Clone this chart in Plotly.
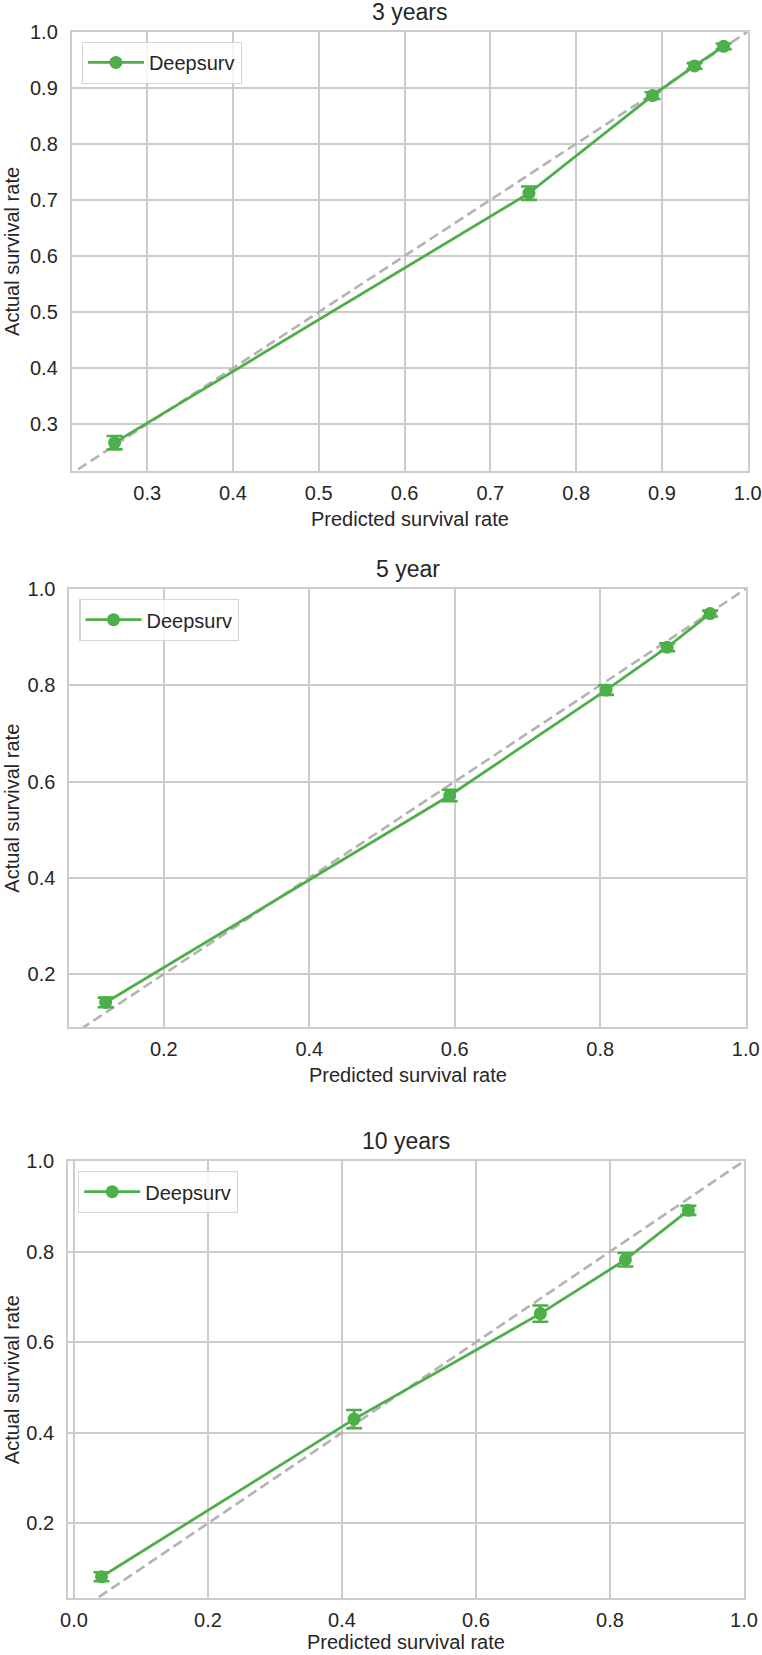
import plotly.graph_objects as go

# ---- data ----
titles = ["3 years", "5 year", "10 years"]
series_name = "Deepsurv"

pred_3y = [0.262, 0.745, 0.889, 0.938, 0.972]
obs_3y = [0.267, 0.712, 0.886, 0.939, 0.974]
err_3y = [0.012, 0.012, 0.006, 0.005, 0.005]

pred_5y = [0.120, 0.593, 0.808, 0.892, 0.951]
obs_5y = [0.141, 0.571, 0.790, 0.879, 0.949]
err_5y = [0.010, 0.012, 0.010, 0.008, 0.006]

pred_10y = [0.041, 0.418, 0.696, 0.823, 0.917]
obs_10y = [0.082, 0.430, 0.663, 0.782, 0.891]
err_10y = [0.010, 0.020, 0.018, 0.015, 0.010]

diag = [0.0, 1.0]

x_ranges = [[0.212, 1.0], [0.07, 1.0], [-0.009, 1.0]]
y_ranges = [[0.217, 1.0], [0.09, 1.0], [0.035, 1.0]]
x_ticks = [[0.3, 0.4, 0.5, 0.6, 0.7, 0.8, 0.9, 1.0],
           [0.2, 0.4, 0.6, 0.8, 1.0],
           [0.0, 0.2, 0.4, 0.6, 0.8, 1.0]]
y_ticks = [[0.3, 0.4, 0.5, 0.6, 0.7, 0.8, 0.9, 1.0],
           [0.2, 0.4, 0.6, 0.8, 1.0],
           [0.2, 0.4, 0.6, 0.8, 1.0]]

xlabel = "Predicted survival rate"
ylabel = "Actual survival rate"

# ---- layout geometry (pixels) ----
W, H = 762, 1655
panels = [
    dict(x0=71.7, x1=747.7, y0=31.7, y1=470.7, xl=48),
    dict(x0=69.3, x1=745.7, y0=589.0, y1=1027.0, xl=48),
    dict(x0=68.0, x1=744.0, y0=1161.0, y1=1598.0, xl=44),
]

GREEN = "#4daf4a"
GRID = "#cccccc"
TXT = "#262626"
FONT = "Liberation Sans, Arial, Helvetica, sans-serif"

data_sets = [(pred_3y, obs_3y, err_3y), (pred_5y, obs_5y, err_5y), (pred_10y, obs_10y, err_10y)]

fig = go.Figure()
annotations = []
layout_axes = {}

for i, (p, (xs, ys, es)) in enumerate(zip(panels, data_sets)):
    n = "" if i == 0 else str(i + 1)
    xa, ya = "x" + n, "y" + n
    leg = "legend" + n

    fig.add_trace(go.Scatter(
        x=diag, y=diag, mode="lines", xaxis=xa, yaxis=ya,
        line=dict(color="#b3b3b3", width=2.6, dash="10px,5px"),
        showlegend=False, hoverinfo="skip"))

    fig.add_trace(go.Scatter(
        x=xs, y=ys, mode="lines+markers", name=series_name, xaxis=xa, yaxis=ya,
        line=dict(color=GREEN, width=2.8),
        marker=dict(color=GREEN, size=13),
        error_y=dict(type="data", array=es, visible=True, color=GREEN, thickness=2.6, width=8),
        legend=leg, showlegend=True))

    dom_x = [p["x0"] / W, p["x1"] / W]
    dom_y = [1 - p["y1"] / H, 1 - p["y0"] / H]

    axis_common = dict(
        showgrid=True, gridcolor=GRID, gridwidth=1.6,
        showline=True, linecolor=GRID, linewidth=1.8, mirror=True,
        zeroline=False, ticks="", tickformat=".1f",
        tickfont=dict(family=FONT, size=20, color=TXT),
        automargin=False,
    )
    layout_axes["xaxis" + n] = dict(
        axis_common, domain=dom_x, range=x_ranges[i], tickvals=x_ticks[i],
        anchor=ya, ticklabelstandoff=3)
    layout_axes["yaxis" + n] = dict(
        axis_common, domain=dom_y, range=y_ranges[i], tickvals=y_ticks[i],
        anchor=xa, ticklabelstandoff=8)

    layout_axes[leg] = dict(
        x=(p["x0"] + 10) / W, y=1 - (p["y0"] + 10) / H,
        xanchor="left", yanchor="top",
        bgcolor="rgba(255,255,255,0.8)", bordercolor="#d5d5d5", borderwidth=1.2,
        font=dict(family=FONT, size=20, color=TXT),
        itemwidth=56, tracegroupgap=0)

    cx = (p["x0"] + p["x1"]) / 2 / W
    # title
    annotations.append(dict(
        text=titles[i], x=cx, y=1 - (p["y0"] - 20) / H, xref="paper", yref="paper",
        xanchor="center", yanchor="middle", showarrow=False,
        font=dict(family=FONT, size=23, color=TXT)))
    # x label
    annotations.append(dict(
        text=xlabel, x=cx, y=1 - (p["y1"] + p["xl"]) / H, xref="paper", yref="paper",
        xanchor="center", yanchor="middle", showarrow=False,
        font=dict(family=FONT, size=20, color=TXT)))
    # y label
    annotations.append(dict(
        text=ylabel, x=11.7 / W, y=1 - (p["y0"] + p["y1"]) / 2 / H, xref="paper", yref="paper",
        xanchor="center", yanchor="middle", showarrow=False, textangle=-90,
        font=dict(family=FONT, size=20, color=TXT)))

fig.update_layout(
    width=W, height=H,
    margin=dict(l=0, r=0, t=0, b=0),
    paper_bgcolor="white", plot_bgcolor="white",
    annotations=annotations,
    **layout_axes,
)

fig.write_html(
    "out.html",
    config={"displayModeBar": False},
    post_script="document.body.style.margin='0';"
                "document.documentElement.style.overflow='hidden';"
                "document.body.style.overflow='hidden';",
)
